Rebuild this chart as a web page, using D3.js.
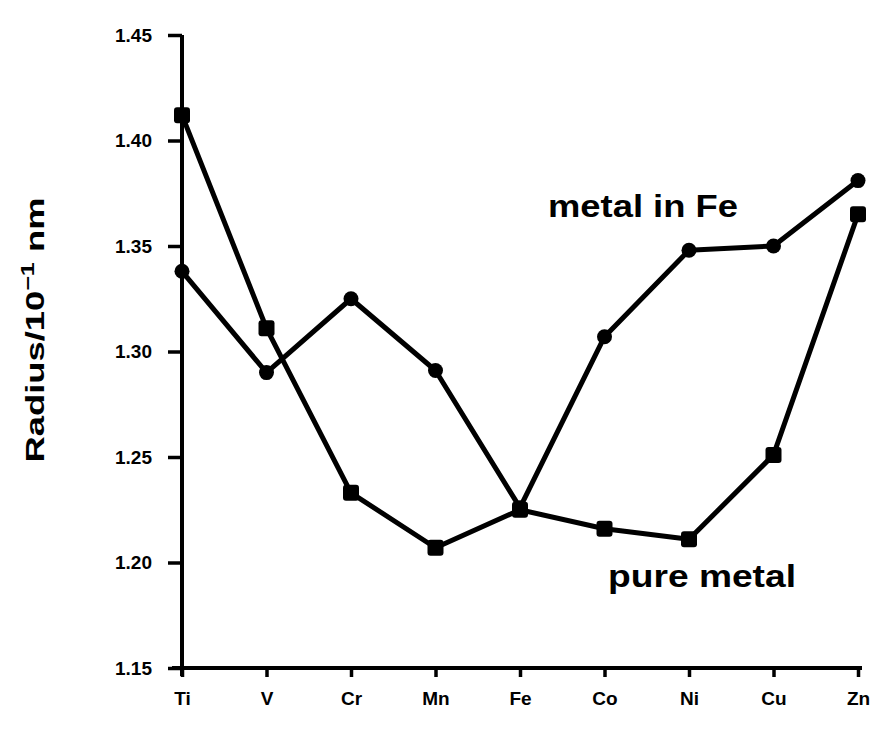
<!DOCTYPE html>
<html>
<head>
<meta charset="utf-8">
<script src="https://cdn.jsdelivr.net/npm/d3@7"></script>
<style>
  html, body { margin: 0; padding: 0; background: #fff; }
  svg { display: block; font-family: "Liberation Sans", Arial, sans-serif; }
</style>
</head>
<body>
<svg id="chart" width="875" height="732"></svg>
<script>
const elements = ["Ti", "V", "Cr", "Mn", "Fe", "Co", "Ni", "Cu", "Zn"];
const pureMetal = [1.412, 1.311, 1.233, 1.207, 1.225, 1.216, 1.211, 1.251, 1.365];
const metalInFe = [1.338, 1.290, 1.325, 1.291, 1.226, 1.307, 1.348, 1.350, 1.381];
const yTicks = [1.15, 1.20, 1.25, 1.30, 1.35, 1.40, 1.45];
const yTickLabels = ["1.15", "1.20", "1.25", "1.30", "1.35", "1.40", "1.45"];

const svg = d3.select("#chart");
const x = d3.scalePoint().domain(elements).range([182, 858]);
const y = d3.scaleLinear().domain([1.15, 1.45]).range([668, 35]);

// y axis
const yAxis = d3.axisLeft(y).tickValues(yTicks)
  .tickFormat((d, i) => yTickLabels[i]).tickSize(14).tickPadding(16);
const gy = svg.append("g").attr("transform", "translate(182,0)").call(yAxis);
gy.select(".domain").attr("d", "M0,35V676").attr("stroke", "#000").attr("stroke-width", 4);
gy.selectAll(".tick line").attr("stroke", "#000").attr("stroke-width", 3.5);
gy.selectAll(".tick text").attr("font-size", 19).attr("font-weight", "bold").attr("fill", "#000");

// x axis
const xAxis = d3.axisBottom(x).tickSize(9).tickPadding(15);
const gx = svg.append("g").attr("transform", "translate(0,668)").call(xAxis);
gx.select(".domain").attr("d", "M172,0H862").attr("stroke", "#000").attr("stroke-width", 4);
gx.selectAll(".tick line").attr("stroke", "#000").attr("stroke-width", 3.5);
gx.selectAll(".tick text").attr("font-size", 19).attr("font-weight", "bold").attr("fill", "#000");

const line = d3.line().x((d, i) => x(elements[i])).y(d => y(d));

svg.append("path").datum(pureMetal).attr("d", line)
  .attr("fill", "none").attr("stroke", "#000").attr("stroke-width", 5).attr("stroke-linejoin", "round");
svg.append("path").datum(metalInFe).attr("d", line)
  .attr("fill", "none").attr("stroke", "#000").attr("stroke-width", 5).attr("stroke-linejoin", "round");

// markers: pure metal squares, metal in Fe circles
svg.append("g").selectAll("rect").data(pureMetal).join("rect")
  .attr("x", (d, i) => x(elements[i]) - 8).attr("y", d => y(d) - 8)
  .attr("width", 16).attr("height", 16).attr("rx", 3).attr("fill", "#000");
svg.append("g").selectAll("circle").data(metalInFe).join("circle")
  .attr("cx", (d, i) => x(elements[i])).attr("cy", d => y(d))
  .attr("r", 7.5).attr("fill", "#000");

// annotations
svg.append("text").attr("x", 548).attr("y", 217).attr("font-size", 31)
  .attr("font-weight", "bold").attr("textLength", 190).attr("lengthAdjust", "spacingAndGlyphs")
  .text("metal in Fe");
svg.append("text").attr("x", 608).attr("y", 587).attr("font-size", 31)
  .attr("font-weight", "bold").attr("textLength", 188).attr("lengthAdjust", "spacingAndGlyphs")
  .text("pure metal");

// y title
const title = svg.append("text")
  .attr("transform", "translate(44,330) rotate(-90)")
  .attr("text-anchor", "middle").attr("font-size", 26).attr("font-weight", "bold")
  .attr("textLength", 265).attr("lengthAdjust", "spacingAndGlyphs");
title.append("tspan").text("Radius/10");
title.append("tspan").attr("font-size", 18).attr("dy", -10).text("−1");
title.append("tspan").attr("dy", 10).text(" nm");
</script>
</body>
</html>
